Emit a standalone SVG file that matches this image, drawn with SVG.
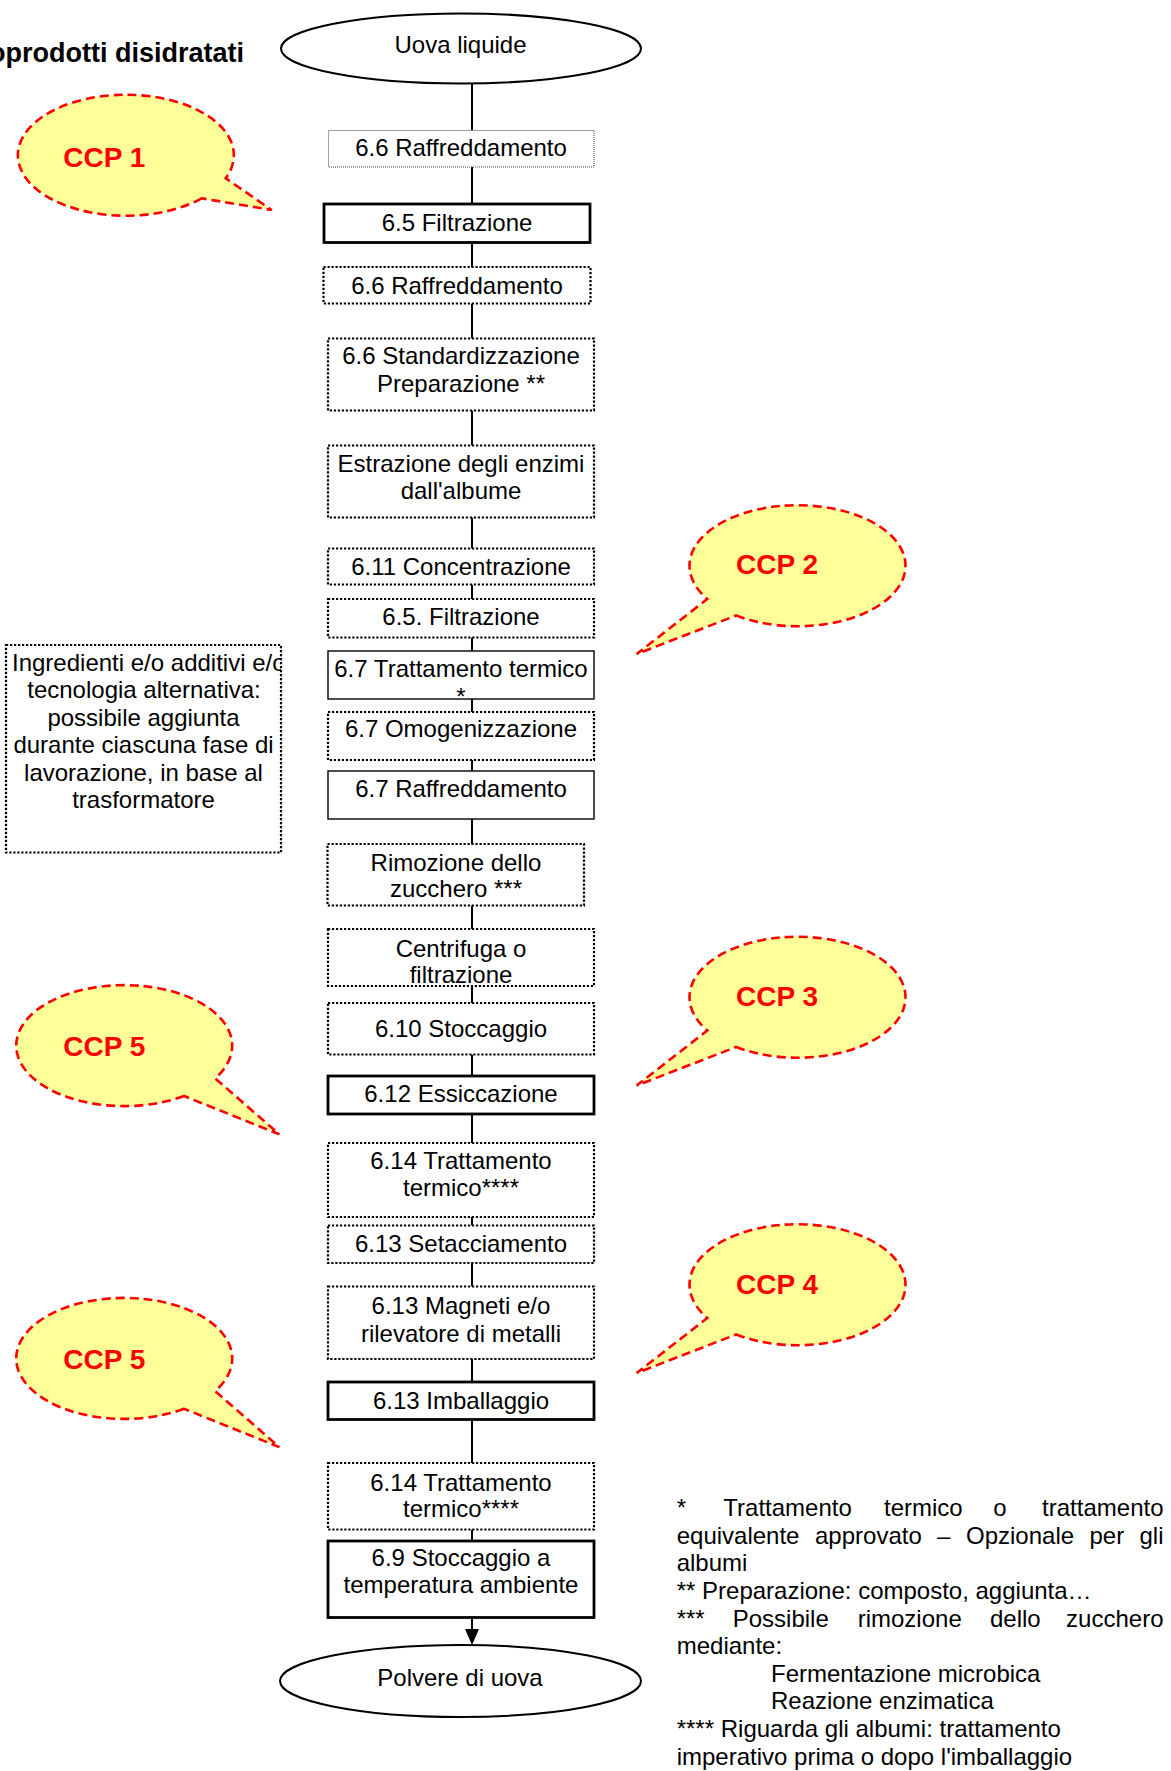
<svg xmlns="http://www.w3.org/2000/svg" width="1171" height="1771" viewBox="0 0 1171 1771">
  <style>
    .box { fill: #fff; stroke: #000; }
    .dot { stroke-width: 2.2; stroke-dasharray: 2.2 1.8; }
    .fine { stroke: #444; stroke-width: 1; stroke-dasharray: 1 1; }
    .thick { stroke-width: 2.8; }
    .thin { stroke-width: 1.4; }
    .oval { fill: #fff; stroke: #000; stroke-width: 2; }
    .t { font-family: "Liberation Sans", Arial, sans-serif; font-size: 24px; fill: #000; text-anchor: middle; }
    .note { font-family: "Liberation Sans", Arial, sans-serif; font-size: 24px; fill: #000; }
    .title { font-family: "Liberation Sans", Arial, sans-serif; font-size: 27px; font-weight: bold; fill: #000; text-anchor: end; }
    .bubble { fill: #FFFF99; stroke: #FF0000; stroke-width: 2.6; stroke-dasharray: 9 5; }
    .ccp { font-family: "Liberation Sans", Arial, sans-serif; font-size: 28px; font-weight: bold; fill: #FF0000; }
    .flow { stroke: #000; stroke-width: 2; fill: none; }
  </style>
  <defs>
    <!-- callout shapes, relative to the ellipse centre -->
    <path id="calloutR1" d="M77.7,40.8 A108,60.5 0 1 1 101.7,20.8 L147.7,52.5 Z"/>
    <path id="calloutR5" d="M60,50.2 A108,60.5 0 1 1 91.1,32.5 L155.3,88.5 Z"/>
    <path id="calloutL" d="M-60.9,50 A108,60.5 0 1 0 -89.7,33.5 L-160.3,88.5 Z"/>
    <clipPath id="sideClip"><rect x="6" y="645" width="275" height="207"/></clipPath>
  </defs>

  <rect x="0" y="0" width="1171" height="1771" fill="#fff"/>

  <text class="title" x="244" y="61.5">oprodotti disidratati</text>

  <!-- connectors -->
  <g id="connectors" class="flow">
    <line x1="472" y1="83.5" x2="472" y2="130.5"/>
    <line x1="472" y1="167" x2="472" y2="204"/>
    <line x1="472" y1="242.5" x2="472" y2="267"/>
    <line x1="472" y1="303.5" x2="472" y2="338.5"/>
    <line x1="472" y1="410.5" x2="472" y2="445.5"/>
    <line x1="472" y1="517.5" x2="472" y2="548.5"/>
    <line x1="472" y1="584.5" x2="472" y2="599"/>
    <line x1="472" y1="637.5" x2="472" y2="651"/>
    <line x1="472" y1="699" x2="472" y2="712"/>
    <line x1="472" y1="760" x2="472" y2="771"/>
    <line x1="472" y1="819" x2="472" y2="844"/>
    <line x1="472" y1="905.5" x2="472" y2="929"/>
    <line x1="472" y1="986" x2="472" y2="1003"/>
    <line x1="472" y1="1054.5" x2="472" y2="1076"/>
    <line x1="472" y1="1114" x2="472" y2="1143"/>
    <line x1="472" y1="1217" x2="472" y2="1225.5"/>
    <line x1="472" y1="1263" x2="472" y2="1286.5"/>
    <line x1="472" y1="1359" x2="472" y2="1382"/>
    <line x1="472" y1="1419.5" x2="472" y2="1463"/>
    <line x1="472" y1="1529.5" x2="472" y2="1541"/>
    <line x1="472" y1="1617.5" x2="472" y2="1630"/>
    <polygon points="465,1629 479,1629 472,1645" fill="#000" stroke="none"/>
  </g>

  <!-- start / end -->
  <g id="n-start">
    <ellipse class="oval" cx="461" cy="48.5" rx="180" ry="35"/>
    <text class="t" x="460.5" y="53.3">Uova liquide</text>
  </g>
  <g id="n-end">
    <ellipse class="oval" cx="460.5" cy="1681" rx="180.5" ry="36"/>
    <text class="t" x="460" y="1686">Polvere di uova</text>
  </g>

  <!-- process steps -->
  <g id="n-raffr1">
    <rect class="box fine" x="328.5" y="130.5" width="265.5" height="36.5"/>
    <text class="t" x="461" y="156">6.6 Raffreddamento</text>
  </g>
  <g id="n-filtr1">
    <rect class="box thick" x="324" y="204" width="266" height="38.5"/>
    <text class="t" x="457" y="231">6.5 Filtrazione</text>
  </g>
  <g id="n-raffr2">
    <rect class="box dot" x="323.5" y="267" width="267" height="36.5"/>
    <text class="t" x="457" y="294">6.6 Raffreddamento</text>
  </g>
  <g id="n-stand">
    <rect class="box dot" x="328" y="338.5" width="266" height="72"/>
    <text class="t" x="461" y="364">6.6 Standardizzazione</text>
    <text class="t" x="461" y="391.7">Preparazione **</text>
  </g>
  <g id="n-enzimi">
    <rect class="box dot" x="328" y="445.5" width="266" height="72"/>
    <text class="t" x="461" y="471.5">Estrazione degli enzimi</text>
    <text class="t" x="461" y="498.5">dall'albume</text>
  </g>
  <g id="n-conc">
    <rect class="box dot" x="328" y="548.5" width="266" height="36"/>
    <text class="t" x="461" y="575">6.11 Concentrazione</text>
  </g>
  <g id="n-filtr2">
    <rect class="box dot" x="328" y="599" width="266" height="38.5"/>
    <text class="t" x="461" y="625">6.5. Filtrazione</text>
  </g>
  <g id="n-tratt1">
    <rect class="box thin" x="328" y="651" width="266" height="48"/>
    <text class="t" x="461" y="677.3">6.7 Trattamento termico</text>
    <text class="t" x="461" y="705">*</text>
  </g>
  <g id="n-omog">
    <rect class="box dot" x="328" y="712" width="266" height="48"/>
    <text class="t" x="461" y="736.7">6.7 Omogenizzazione</text>
  </g>
  <g id="n-raffr3">
    <rect class="box thin" x="328" y="771" width="266" height="48"/>
    <text class="t" x="461" y="796.7">6.7 Raffreddamento</text>
  </g>
  <g id="n-zucchero">
    <rect class="box dot" x="327.5" y="844" width="256.5" height="61.5"/>
    <text class="t" x="456" y="870.7">Rimozione dello</text>
    <text class="t" x="456" y="896.7">zucchero ***</text>
  </g>
  <g id="n-centr">
    <rect class="box dot" x="328" y="929" width="266" height="57"/>
    <text class="t" x="461" y="956.7">Centrifuga o</text>
    <text class="t" x="461" y="983">filtrazione</text>
  </g>
  <g id="n-stocc1">
    <rect class="box dot" x="328" y="1003" width="266" height="51.5"/>
    <text class="t" x="461" y="1036.7">6.10 Stoccaggio</text>
  </g>
  <g id="n-essic">
    <rect class="box thick" x="328" y="1076" width="266" height="38"/>
    <text class="t" x="461" y="1102.3">6.12 Essiccazione</text>
  </g>
  <g id="n-tratt2">
    <rect class="box dot" x="328" y="1143" width="266" height="74"/>
    <text class="t" x="461" y="1169.3">6.14 Trattamento</text>
    <text class="t" x="461" y="1196">termico****</text>
  </g>
  <g id="n-setacc">
    <rect class="box dot" x="328" y="1225.5" width="266" height="37.5"/>
    <text class="t" x="461" y="1252.3">6.13 Setacciamento</text>
  </g>
  <g id="n-magneti">
    <rect class="box dot" x="328" y="1286.5" width="266" height="72.5"/>
    <text class="t" x="461" y="1314.3">6.13 Magneti e/o</text>
    <text class="t" x="461" y="1341.7">rilevatore di metalli</text>
  </g>
  <g id="n-imball">
    <rect class="box thick" x="328" y="1382" width="266" height="37.5"/>
    <text class="t" x="461" y="1409.3">6.13 Imballaggio</text>
  </g>
  <g id="n-tratt3">
    <rect class="box dot" x="328" y="1463" width="266" height="66.5"/>
    <text class="t" x="461" y="1490.7">6.14 Trattamento</text>
    <text class="t" x="461" y="1516.7">termico****</text>
  </g>
  <g id="n-stocc2">
    <rect class="box thick" x="328" y="1541" width="266" height="76.5"/>
    <text class="t" x="461" y="1565.7">6.9 Stoccaggio a</text>
    <text class="t" x="461" y="1593">temperatura ambiente</text>
  </g>

  <!-- side note on additives -->
  <g id="n-ingredienti">
    <rect class="box dot" x="6" y="645" width="275" height="207.5"/>
    <text class="note" x="12" y="670.5" clip-path="url(#sideClip)">Ingredienti e/o additivi e/o</text>
    <text class="t" x="144" y="698">tecnologia alternativa:</text>
    <text class="t" x="143.5" y="725.5">possibile aggiunta</text>
    <text class="t" x="143.5" y="753">durante ciascuna fase di</text>
    <text class="t" x="143.5" y="780.5">lavorazione, in base al</text>
    <text class="t" x="143.5" y="808">trasformatore</text>
  </g>

  <!-- critical control point callouts -->
  <g id="ccp1">
    <use href="#calloutR1" class="bubble" x="124" y="157.5"/>
    <text class="ccp" x="63.3" y="167.3">CCP 1</text>
  </g>
  <g id="ccp2">
    <use href="#calloutL" class="bubble" x="797" y="565.5"/>
    <text class="ccp" x="736" y="574">CCP 2</text>
  </g>
  <g id="ccp3">
    <use href="#calloutL" class="bubble" x="797" y="997"/>
    <text class="ccp" x="736" y="1006">CCP 3</text>
  </g>
  <g id="ccp4">
    <use href="#calloutL" class="bubble" x="797" y="1284.5"/>
    <text class="ccp" x="736" y="1293.5">CCP 4</text>
  </g>
  <g id="ccp5a">
    <use href="#calloutR5" class="bubble" x="124" y="1045.8"/>
    <text class="ccp" x="63.3" y="1056">CCP 5</text>
  </g>
  <g id="ccp5b">
    <use href="#calloutR5" class="bubble" x="124" y="1358.6"/>
    <text class="ccp" x="63.3" y="1368.8">CCP 5</text>
  </g>

  <!-- footnotes (justified lines set word by word) -->
  <g id="footnotes" class="note">
    <text x="676.7" y="1516">*</text>
    <text x="723.3" y="1516">Trattamento</text>
    <text x="884" y="1516">termico</text>
    <text x="993.3" y="1516">o</text>
    <text x="1163.5" y="1516" text-anchor="end">trattamento</text>

    <text x="676.7" y="1543.5">equivalente</text>
    <text x="815" y="1543.5">approvato</text>
    <text x="937" y="1543.5">–</text>
    <text x="966" y="1543.5">Opzionale</text>
    <text x="1089.5" y="1543.5">per</text>
    <text x="1163.5" y="1543.5" text-anchor="end">gli</text>

    <text x="676.7" y="1571">albumi</text>
    <text x="676.7" y="1599">** Preparazione: composto, aggiunta…</text>

    <text x="676.7" y="1626.7">***</text>
    <text x="732.7" y="1626.7">Possibile</text>
    <text x="857.7" y="1626.7">rimozione</text>
    <text x="990" y="1626.7">dello</text>
    <text x="1163.5" y="1626.7" text-anchor="end">zucchero</text>

    <text x="676.7" y="1653.5">mediante:</text>
    <text x="771" y="1681.5">Fermentazione microbica</text>
    <text x="771" y="1709">Reazione enzimatica</text>
    <text x="676.7" y="1736.7">**** Riguarda gli albumi: trattamento</text>
    <text x="676.7" y="1764.5">imperativo prima o dopo l'imballaggio</text>
  </g>
</svg>
